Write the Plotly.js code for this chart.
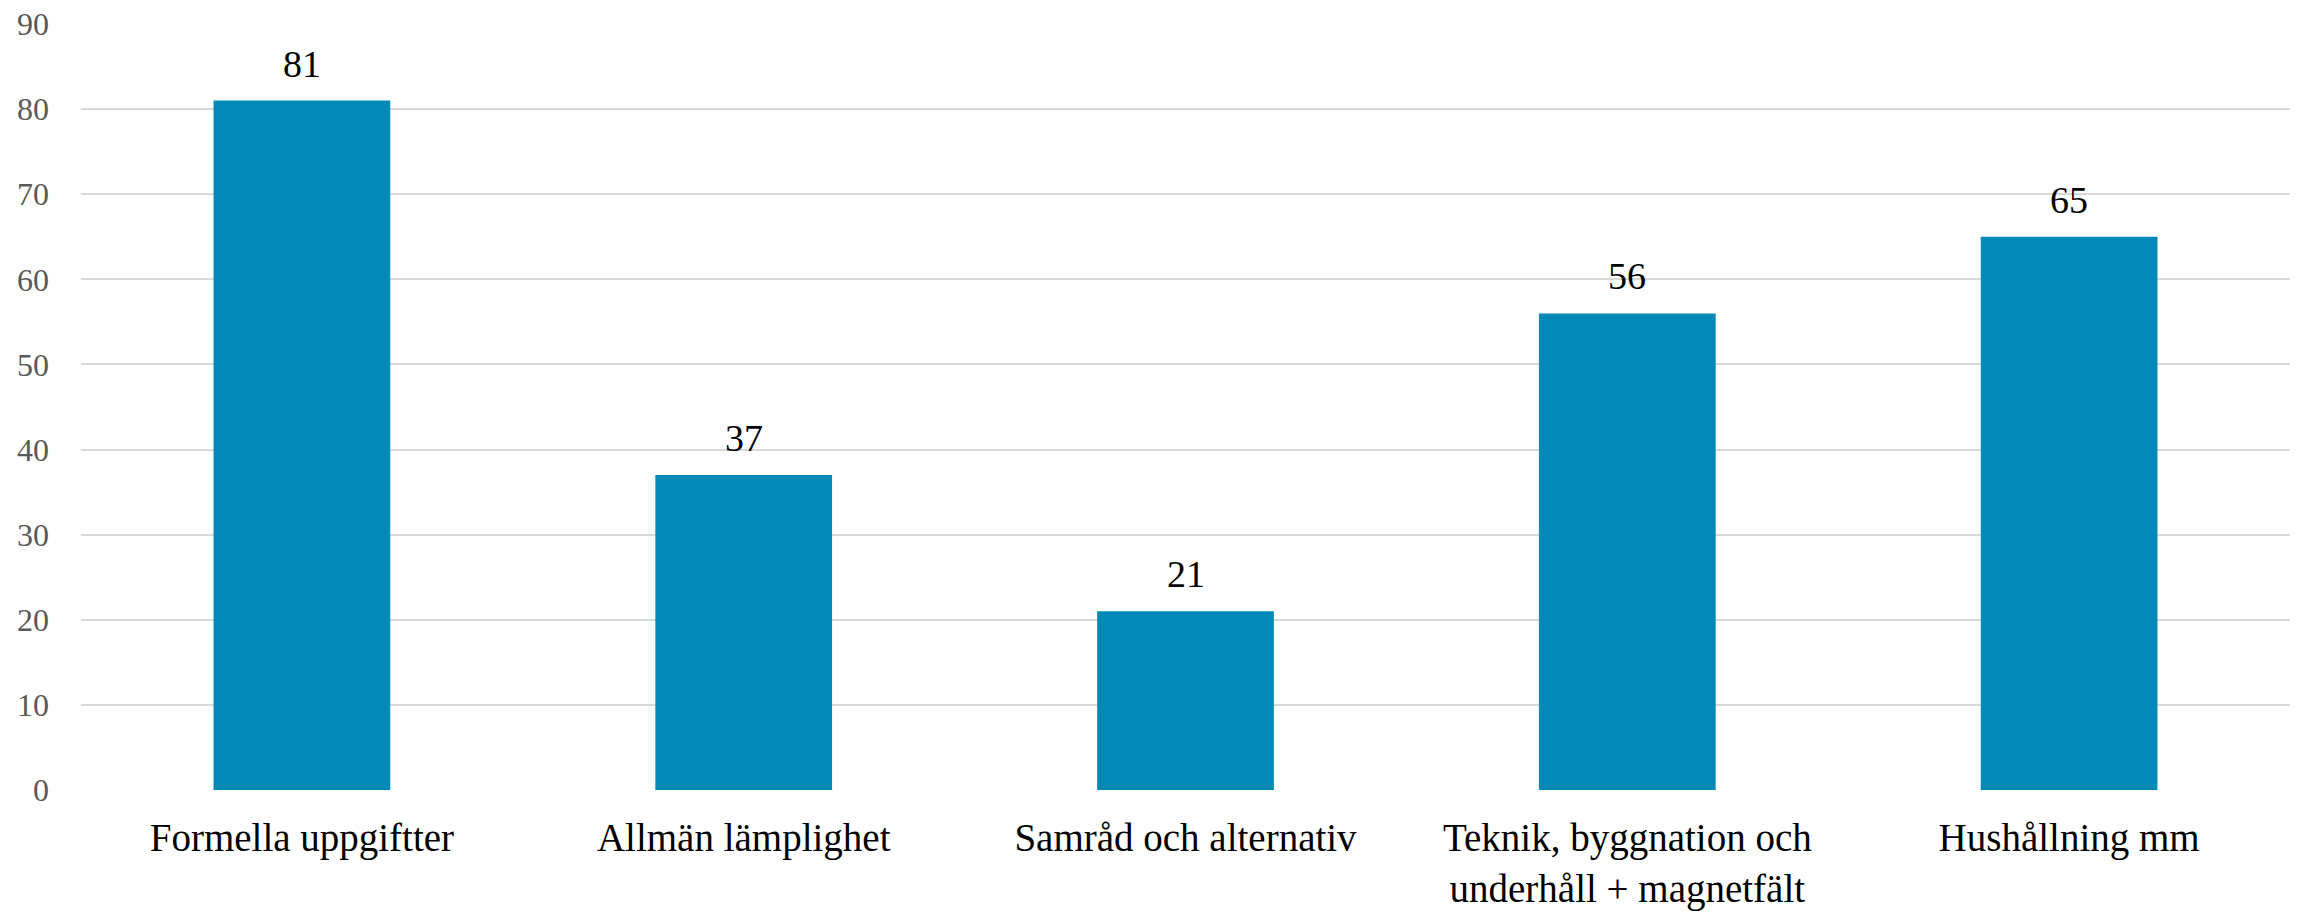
<!DOCTYPE html>
<html>
<head>
<meta charset="utf-8">
<script src="https://cdn.plot.ly/plotly-3.0.1.min.js"></script>
<style>html,body{margin:0;padding:0;background:#fff;}</style>
</head>
<body>
<div id="chart" style="width:2298px;height:915px;"></div>
<script>
const categories = ["Formella uppgiftter", "Allmän lämplighet", "Samråd och alternativ", "Teknik, byggnation och<br>underhåll + magnetfält", "Hushållning mm"];
const values = [81, 37, 21, 56, 65];
const yTicks = [0, 10, 20, 30, 40, 50, 60, 70, 80, 90];

const fontFam = "Liberation Serif, DejaVu Serif, serif";

const trace = {
  type: "bar",
  x: categories,
  y: values,
  marker: {color: "#0089B6"},
  hoverinfo: "none"
};

const annotations = categories.map((c, i) => ({
  x: c, y: values[i], xref: "x", yref: "y",
  text: String(values[i]), showarrow: false,
  yanchor: "bottom", yshift: 14,
  font: {family: fontFam, size: 38, color: "#000"}
}));

const layout = {
  width: 2298, height: 915,
  margin: {l: 81, r: 8, t: 24, b: 125},
  paper_bgcolor: "#fff", plot_bgcolor: "#fff",
  showlegend: false,
  bargap: 0.6,
  xaxis: {
    tickfont: {family: fontFam, size: 39, color: "#000"},
    ticklabelstandoff: 21,
    showgrid: false, zeroline: false, showline: false,
    fixedrange: true
  },
  yaxis: {
    range: [0, 90], tickvals: yTicks,
    tickfont: {family: fontFam, size: 32, color: "#595959"},
    ticklabelstandoff: 31,
    showgrid: true, gridcolor: "#D9D9D9", gridwidth: 2,
    zeroline: false, showline: false,
    fixedrange: true
  },
  annotations: annotations
};

Plotly.newPlot("chart", [trace], layout, {displayModeBar: false, staticPlot: true});
</script>
</body>
</html>
